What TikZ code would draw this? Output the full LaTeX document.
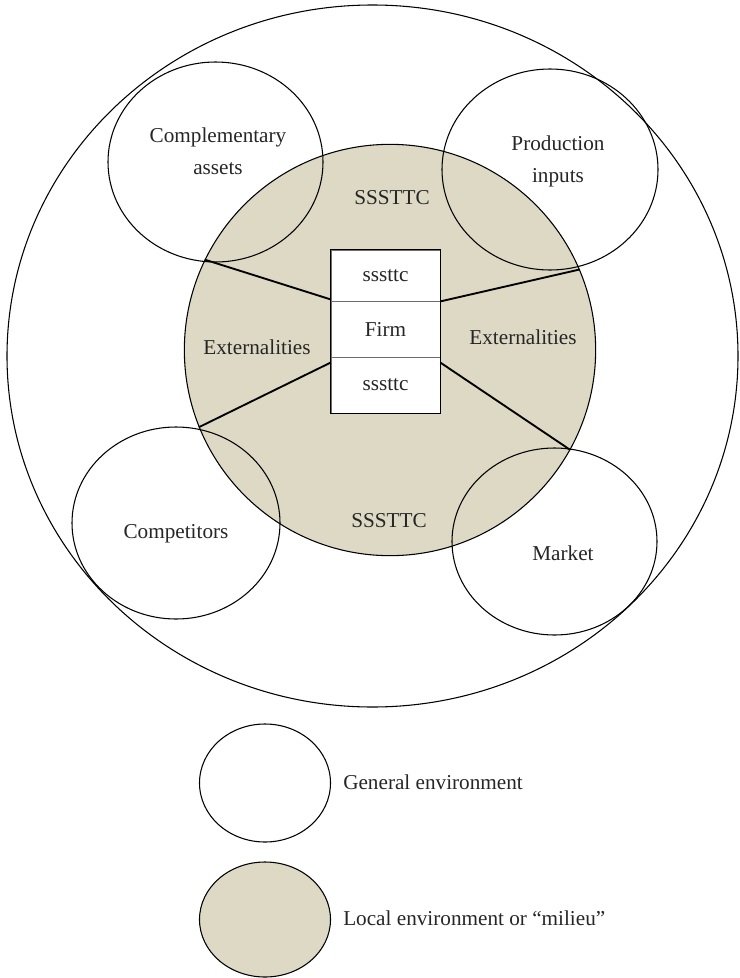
\documentclass[tikz,border=0pt]{standalone}
\usepackage{fontspec}
\setmainfont{Liberation Serif}
\usetikzlibrary{shapes.geometric,calc}
\definecolor{milieu}{RGB}{221,217,196}
\definecolor{divider}{RGB}{110,110,110}
\tikzset{
  env/.style={draw=black, line width=0.8pt, ellipse, inner sep=0pt},
  local/.style={draw=black, line width=0.8pt, fill=milieu, inner sep=0pt},
  cell/.style={draw=divider, line width=0.6pt, fill=white, inner sep=0pt, minimum width=81.75pt},
  link/.style={draw=black, line width=1.4pt},
  lbl/.style={font=\fontsize{15.9}{24}\selectfont, align=center, inner sep=0pt, text=black!85},
}
\begin{document}
\begin{tikzpicture}[x=0.75pt,y=-0.75pt]
\useasboundingbox (0,0) rectangle (739,978);

% general environment
\node[env, fill=white, minimum width=548.25pt, minimum height=526.5pt] (general) at (372.5,356) {};

% local environment (milieu)
\node[local, circle, minimum size=308.5pt] (milieu) at (390,350) {};

% surrounding elements of the general environment
\node[env, minimum width=161.25pt, minimum height=150pt]  (assets) at (215.5,162) {};
\node[env, minimum width=162pt,    minimum height=150.75pt] (inputs) at (550,169.5) {};
\node[env, minimum width=156pt,    minimum height=144pt]  (compet) at (176,523) {};
\node[env, minimum width=153.75pt, minimum height=140.25pt] (market) at (554.5,541.5) {};

\node[lbl] (assetsT) at (218,151) {Complementary\\assets};
\node[lbl] (inputsT) at (558,161) {Production\\inputs};
\node[lbl] (competT) at (176,534) {Competitors};
\node[lbl] (marketT) at (563,553) {Market};

\node[lbl] (topS) at (392,198) {SSSTTC};
\node[lbl] (botS) at (389,521) {SSSTTC};
\node[lbl] (extL) at (257,347) {Externalities};
\node[lbl] (extR) at (523,337) {Externalities};

% the firm
\node[cell, minimum height=38.25pt] (ftop) at (385.5,275.5) {};
\node[cell, minimum height=42pt]    (fmid) at (385.5,329) {};
\node[cell, minimum height=42pt]    (fbot) at (385.5,385) {};
\draw[black, line width=0.8pt] (ftop.north west) rectangle (fbot.south east);
\node[lbl] at (ftop) {sssttc};
\node[lbl] at (fmid) {Firm};
\node[lbl] at (fbot) {sssttc};

% links between the firm and the edge of the milieu
\draw[link] ($(ftop.south west)+(0,-2)$) -- (milieu.154.8);
\draw[link] (ftop.south east) -- (milieu.23.7);
\draw[link] ($(fbot.north west)+(0,6)$) -- (milieu.202.8);
\draw[link] ($(fbot.north east)+(0,6)$) -- (milieu.331.4);

% legend
\node[env, fill=white, minimum width=98.25pt, minimum height=88.5pt] (keyG) at (265,783) {};
\node[env, fill=milieu, minimum width=98.25pt, minimum height=86.25pt] (keyL) at (265,919.5) {};
\node[lbl, anchor=west] (keyGT) at (343,782) {General environment};
\node[lbl, anchor=west] (keyLT) at (343,918) {Local environment or “milieu”};
\end{tikzpicture}
\end{document}
